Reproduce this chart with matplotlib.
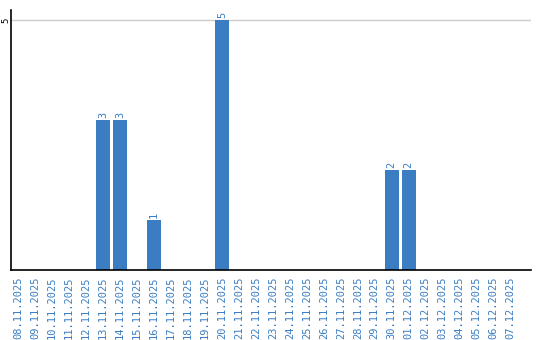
import matplotlib.pyplot as plt

dates = ["08.11.2025", "09.11.2025", "10.11.2025", "11.11.2025", "12.11.2025",
         "13.11.2025", "14.11.2025", "15.11.2025", "16.11.2025", "17.11.2025",
         "18.11.2025", "19.11.2025", "20.11.2025", "21.11.2025", "22.11.2025",
         "23.11.2025", "24.11.2025", "25.11.2025", "26.11.2025", "27.11.2025",
         "28.11.2025", "29.11.2025", "30.11.2025", "01.12.2025", "02.12.2025",
         "03.12.2025", "04.12.2025", "05.12.2025", "06.12.2025", "07.12.2025"]
counts = [0, 0, 0, 0, 0, 3, 3, 0, 1, 0, 0, 0, 5, 0, 0,
          0, 0, 0, 0, 0, 0, 0, 2, 2, 0, 0, 0, 0, 0, 0]

blue = '#3a7dc2'

fig = plt.figure(figsize=(5.4, 3.4), dpi=100)
ax = fig.add_axes([0.0204, 0.206, 0.963, 0.765])

x = list(range(len(dates)))
ax.bar(x, counts, width=0.82, color=blue, zorder=2)
for i, v in zip(x, counts):
    if v > 0:
        ax.text(i, v + 0.03, str(v), rotation=90, ha='center', va='bottom',
                color=blue, fontsize=7.5, family='DejaVu Sans Mono')

ax.set_xlim(-0.41, 30.2)
ax.set_ylim(0, 5.2)
ax.set_yticks([5])
ax.set_yticklabels(['5'], rotation=90, va='center', fontsize=6.5, family='DejaVu Sans Mono')
ax.axhline(5, color='#cccccc', lw=1, zorder=1)
ax.set_xticks(x)
ax.set_xticklabels(dates, rotation=90, fontsize=7.5, color=blue, family='DejaVu Sans Mono')
ax.tick_params(axis='both', length=0)
ax.tick_params(axis='x', pad=5)
ax.tick_params(axis='y', pad=0.5)
for s in ['top', 'right']:
    ax.spines[s].set_visible(False)
ax.spines['left'].set_linewidth(1.2)
ax.spines['bottom'].set_linewidth(1.2)

fig.savefig('out.png', dpi=100)
